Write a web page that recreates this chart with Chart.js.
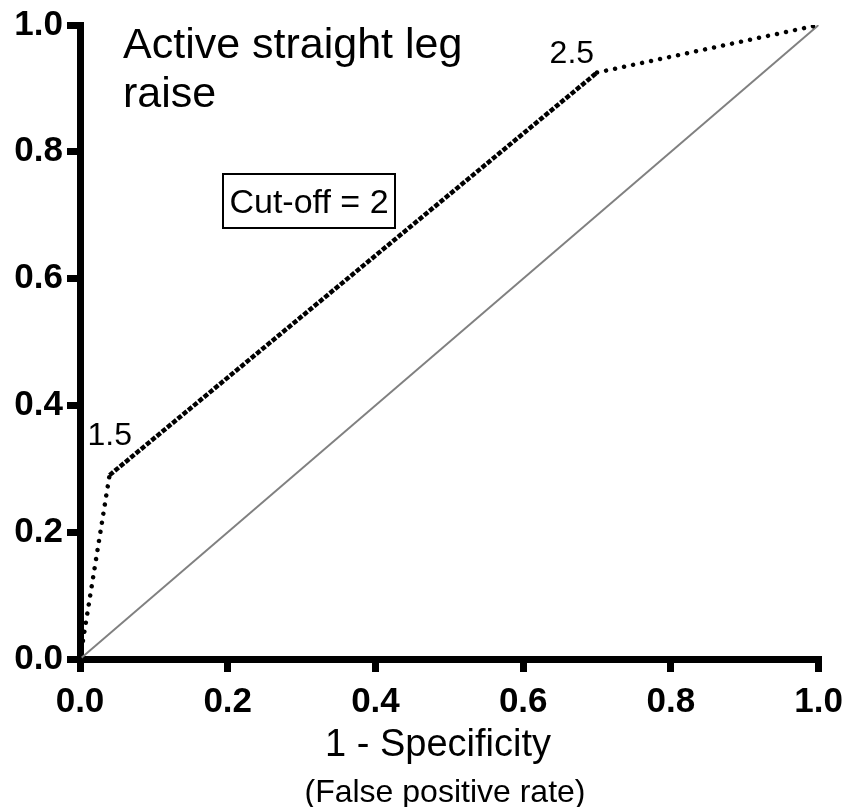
<!DOCTYPE html>
<html>
<head>
<meta charset="utf-8">
<script src="https://cdn.jsdelivr.net/npm/chart.js@4.4.1/dist/chart.umd.min.js"></script>
<style>
  html, body { margin: 0; padding: 0; background: #fff; }
  #roc { display: block; }
</style>
</head>
<body>
<canvas id="roc" width="852" height="807"></canvas>
<script>
'use strict'

// ROC curve points: 1 - specificity vs sensitivity
const fpr = [0, 0.04, 0.70, 1]
const tpr = [0, 0.29, 0.925, 1]
// cut-off score at each corner of the curve
const cutoffs = [null, 1.5, 2.5, null]
// line of no discrimination
const chanceX = [0, 1]
const chanceY = [0, 1]
const axisTicks = [0, 0.2, 0.4, 0.6, 0.8, 1.0]

const titleLines = ['Active straight leg', 'raise']
const cutoffNote = 'Cut-off = 2'
const xTitleLines = ['1 - Specificity', '(False positive rate)']

;(() => {
  const family = '"Liberation Sans", Arial, Helvetica, sans-serif'

  const tickFont = {
    color: '#000000',
    font: {
      family: family,
      size: 35,
      weight: 'bold'
    },
    callback: (v) => v.toFixed(1)
  }

  const axisGrid = {
    drawOnChartArea: false,
    color: '#000000',
    lineWidth: 7,
    tickLength: 13
  }

  const axisBorder = {
    color: '#000000',
    width: 7
  }

  // where each cut-off label sits relative to its point
  const labelOffsets = {
    1: { dx: -22, dy: -30, align: 'left' },
    2: { dx: -3, dy: -10, align: 'right' }
  }

  const notes = {
    id: 'notes',
    afterDraw(chart) {
      const { ctx, chartArea: area, scales } = chart
      const x = scales.x
      const y = scales.y
      ctx.save()
      ctx.fillStyle = '#000000'
      ctx.strokeStyle = '#000000'
      ctx.textBaseline = 'alphabetic'

      ctx.font = `43px ${family}`
      ctx.textAlign = 'left'
      titleLines.forEach((line, i) => {
        ctx.fillText(line, area.left + 43, area.top + 33 + i * 49)
      })

      ctx.font = `32px ${family}`
      cutoffs.forEach((c, i) => {
        if (c === null) return
        const off = labelOffsets[i]
        ctx.textAlign = off.align
        ctx.fillText(String(c),
          x.getPixelForValue(fpr[i]) + off.dx,
          y.getPixelForValue(tpr[i]) + off.dy)
      })

      // boxed note
      ctx.lineWidth = 2
      ctx.strokeRect(area.left + 143, area.top + 149, 172, 54)
      ctx.font = `34px ${family}`
      ctx.textAlign = 'center'
      ctx.fillText(cutoffNote, area.left + 229, area.top + 188)

      // x axis title, two lines
      const cx = area.left + 358
      ctx.font = `38px ${family}`
      ctx.fillText(xTitleLines[0], cx, x.bottom - 51)
      ctx.font = `32px ${family}`
      ctx.fillText(xTitleLines[1], cx + 7, x.bottom - 5)
      ctx.restore()
    }
  }

  new Chart(document.getElementById('roc'), {
    type: 'scatter',
    data: {
      datasets: [
        {
          label: 'ROC',
          data: fpr.map((v, i) => ({ x: v, y: tpr[i] })),
          showLine: true,
          borderColor: '#000000',
          borderWidth: 4.5,
          pointRadius: 0,
          segment: {
            borderDash: (ctx) => (ctx.p0DataIndex === 1 ? [5, 1.8] : [0.001, 9.2]),
            borderCapStyle: (ctx) => (ctx.p0DataIndex === 1 ? 'butt' : 'round')
          }
        },
        {
          label: 'Chance',
          data: chanceX.map((v, i) => ({ x: v, y: chanceY[i] })),
          showLine: true,
          borderColor: '#808080',
          borderWidth: 2,
          pointRadius: 0
        }
      ]
    },
    options: {
      responsive: false,
      animation: false,
      devicePixelRatio: 1,
      layout: {
        padding: { top: 25, right: 30, bottom: 0, left: 0 }
      },
      scales: {
        x: {
          type: 'linear',
          min: 0,
          max: 1,
          afterBuildTicks: (scale) => {
            scale.ticks = axisTicks.map((v) => ({ value: v }))
          },
          afterFit: (scale) => {
            scale.height = 148
          },
          grid: axisGrid,
          border: axisBorder,
          ticks: { ...tickFont, padding: 9, maxRotation: 0 }
        },
        y: {
          type: 'linear',
          min: 0,
          max: 1,
          afterBuildTicks: (scale) => {
            scale.ticks = axisTicks.map((v) => ({ value: v }))
          },
          afterFit: (scale) => {
            scale.width = 80
          },
          grid: axisGrid,
          border: axisBorder,
          ticks: { ...tickFont, padding: 4 }
        }
      },
      plugins: {
        legend: { display: false },
        tooltip: { enabled: false }
      }
    },
    plugins: [notes]
  })
})()
</script>
</body>
</html>
